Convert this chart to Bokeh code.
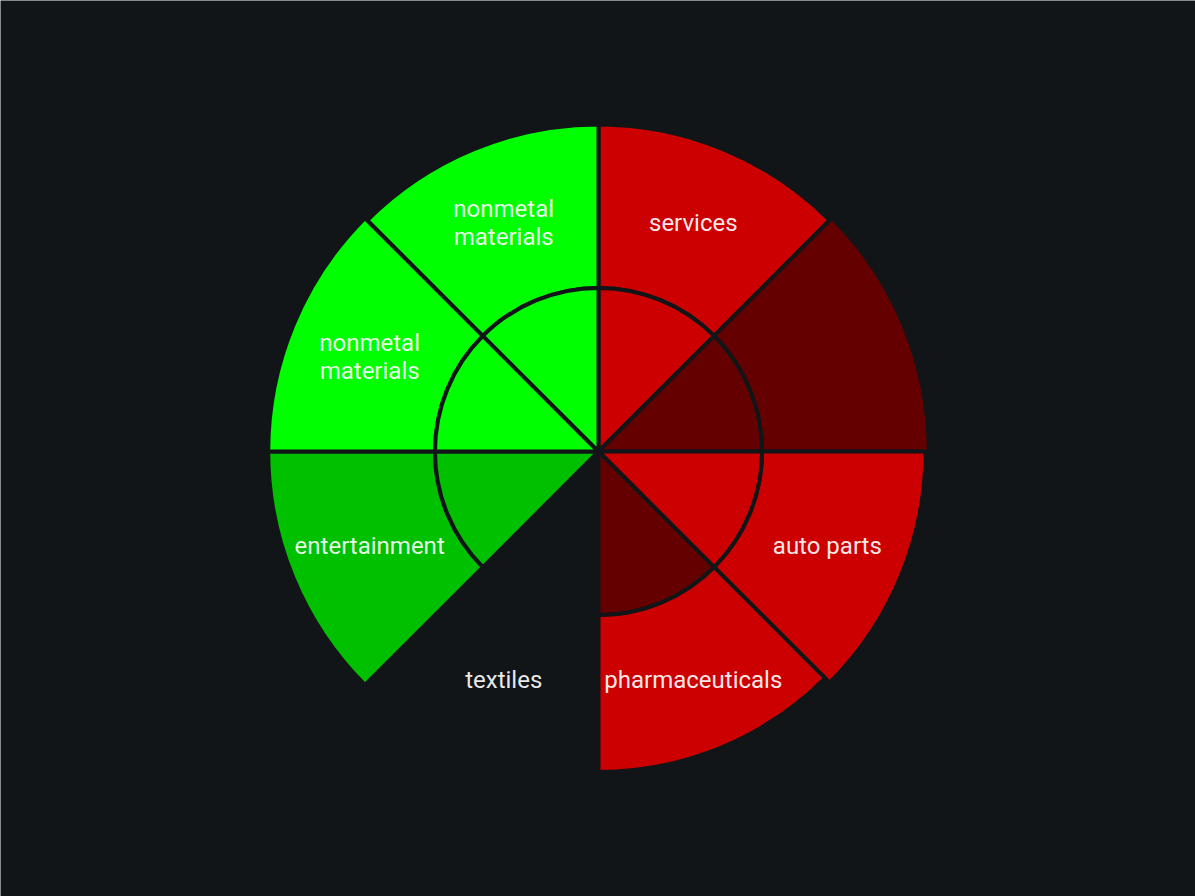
import math
from bokeh.plotting import figure
from bokeh.models import Range1d, ColumnDataSource
from bokeh.core.properties import value
from bokeh.embed import file_html
from bokeh.resources import INLINE

# ---- data (clockwise from 12 o'clock) ----
categories = ["services", "", "auto parts", "pharmaceuticals", "textiles",
              "entertainment", "nonmetal\nmaterials", "nonmetal\nmaterials"]
inner_values = [50, 50, 50, 50, 0, 50, 50, 50]
outer_values = [100, 101, 100, 98, 0, 101, 101, 100]
inner_colors = ["#cc0000", "#640000", "#cc0000", "#640000", "#121518",
                "#00c000", "#00ff00", "#00ff00"]
outer_colors = ["#cc0000", "#640000", "#cc0000", "#cc0000", "#121518",
                "#00c000", "#00ff00", "#00ff00"]

BG = "#121518"
W, H = 1195, 896
PX = 3.27           # pixels per value unit
cx_px, cy_px = 598, 451   # centre position inside the plot (from left / top)

p = figure(width=W, height=H, output_backend="svg", toolbar_location=None,
           x_range=Range1d(-cx_px / PX, (W - cx_px) / PX),
           y_range=Range1d(-(H - cy_px) / PX, cy_px / PX),
           min_border=0)
p.axis.visible = False
p.grid.visible = False
p.outline_line_color = None
p.background_fill_color = BG
p.border_fill_color = BG

n = len(categories)
step = 2 * math.pi / n
starts, ends, mids = [], [], []
for i in range(n):
    a_end = math.pi / 2 - step * i
    a_start = a_end - step
    starts.append(a_start)
    ends.append(a_end)
    mids.append((a_start + a_end) / 2)

keep = [i for i in range(n) if outer_values[i] > 0]
inner_src = ColumnDataSource(dict(
    x=[0] * len(keep), y=[0] * len(keep),
    r=[inner_values[i] for i in keep],
    s=[starts[i] for i in keep], e=[ends[i] for i in keep],
    c=[inner_colors[i] for i in keep]))
outer_src = ColumnDataSource(dict(
    x=[0] * len(keep), y=[0] * len(keep),
    ri=[inner_values[i] for i in keep],
    ro=[outer_values[i] for i in keep],
    s=[starts[i] for i in keep], e=[ends[i] for i in keep],
    c=[outer_colors[i] for i in keep]))

p.annular_wedge(x="x", y="y", inner_radius="ri", outer_radius="ro",
                start_angle="s", end_angle="e", fill_color="c",
                line_color=BG, line_width=4, source=outer_src)
p.wedge(x="x", y="y", radius="r", start_angle="s", end_angle="e",
        fill_color="c", line_color=BG, line_width=4, source=inner_src)

maxv = max(outer_values)
lab_r = 0.75 * maxv
lab_src = ColumnDataSource(dict(
    x=[lab_r * math.cos(m) for m in mids],
    y=[lab_r * math.sin(m) for m in mids],
    t=categories))
p.text(x="x", y="y", text="t", source=lab_src,
       text_font=value("Roboto"), text_font_size="24px",
       text_color="white", text_alpha=0.92,
       text_align="center", text_baseline="middle", text_line_height=1.0)

html = file_html(p, INLINE)
html = html.replace("<body>", '<body style="background:%s;margin:0;overflow:hidden;">' % BG, 1)
open("out.html", "w").write(html)
